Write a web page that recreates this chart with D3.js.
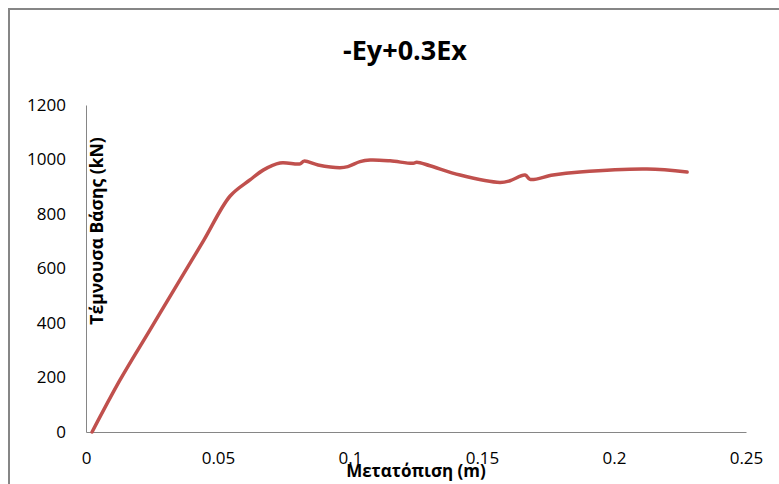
<!DOCTYPE html>
<html>
<head>
<meta charset="utf-8">
<script src="https://cdn.jsdelivr.net/npm/d3@7/dist/d3.min.js"></script>
<style>
  body { margin: 0; background: #fff; }
  svg { display: block; }
  text { font-family: "Open Sans", Lato, sans-serif; }
</style>
</head>
<body>
<svg id="chart" width="779" height="484"></svg>
<script>
// Data
const title = "-Ey+0.3Ex";
const xLabel = "Μετατόπιση (m)";
const yLabel = "Τέμνουσα Βάσης (kN)";
const xTicks = [0, 0.05, 0.1, 0.15, 0.2, 0.25];
const yTicks = [0, 200, 400, 600, 800, 1000, 1200];
const displacement = [0.0023, 0.0129, 0.0242, 0.0356, 0.0447, 0.0546, 0.0621, 0.0671, 0.0735, 0.0811, 0.0826, 0.0879,
  0.0962, 0.0992, 0.1038, 0.1076, 0.1152, 0.1239, 0.1253, 0.1303, 0.1417, 0.1568, 0.1606, 0.1663, 0.1682,
  0.1769, 0.1871, 0.2125, 0.2277];
const baseShear = [0, 191, 374, 558, 705, 866, 925, 961, 987, 984, 994, 980,
  970, 974, 992, 998, 995, 986, 990, 977, 943, 916, 922, 943, 927,
  943, 954, 965, 954];

const svg = d3.select("#chart");
const W = 779, H = 484;
const plot = { left: 86, right: 746, top: 105, bottom: 432 };

// outer chart border
svg.append("rect")
  .attr("x", 9).attr("y", 9).attr("width", W).attr("height", H)
  .attr("fill", "none").attr("stroke", "#868686").attr("stroke-width", 2);

const x = d3.scaleLinear().domain([0, 0.25]).range([plot.left, plot.right]);
const y = d3.scaleLinear().domain([0, 1200]).range([plot.bottom, plot.top]);

const xAxis = svg.append("g")
  .attr("transform", `translate(0,${plot.bottom})`)
  .call(d3.axisBottom(x).tickValues(xTicks).tickSize(0).tickPadding(20).tickFormat(d => d === 0 ? "0" : String(d)));
const yAxis = svg.append("g")
  .attr("transform", `translate(${plot.left},0)`)
  .call(d3.axisLeft(y).tickValues(yTicks).tickSize(0).tickPadding(20).tickFormat(d => String(d)));

[xAxis, yAxis].forEach(g => {
  g.select(".domain").attr("stroke", "#868686").attr("stroke-width", 1);
  g.selectAll("text").attr("font-size", 17).attr("fill", "#000")
    .style("font-family", "'Open Sans', Lato, sans-serif");
});

// series line
const line = d3.line()
  .x((d, i) => x(displacement[i]))
  .y((d, i) => y(baseShear[i]))
  .curve(d3.curveCatmullRom.alpha(0.5));
svg.append("path")
  .datum(baseShear)
  .attr("d", line)
  .attr("fill", "none")
  .attr("stroke", "#C0504D")
  .attr("stroke-width", 3.5)
  .attr("stroke-linejoin", "round")
  .attr("stroke-linecap", "round");

// title
svg.append("text")
  .attr("x", 405).attr("y", 60)
  .attr("text-anchor", "middle")
  .attr("font-size", 27).attr("font-weight", "bold")
  .text(title);

// axis titles
svg.append("text")
  .attr("x", 416).attr("y", 477)
  .attr("text-anchor", "middle")
  .attr("font-size", 17).attr("font-weight", "bold")
  .text(xLabel);

svg.append("text")
  .attr("transform", "translate(103,231) rotate(-90)")
  .attr("text-anchor", "middle")
  .attr("font-size", 17.5).attr("font-weight", "bold")
  .text(yLabel);
</script>
</body>
</html>
